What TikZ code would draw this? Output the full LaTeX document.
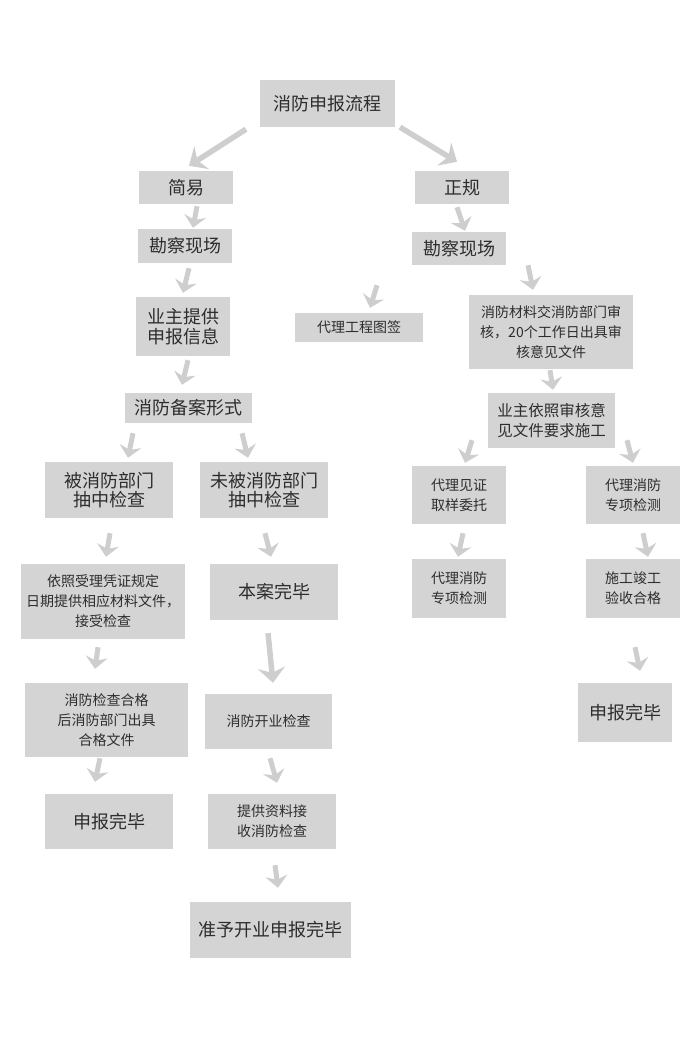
\documentclass[tikz,border=0pt]{standalone}
\usepackage{fontspec}
\usepackage{xcolor}
\usetikzlibrary{arrows.meta,calc}
\newfontfamily\cjk{Noto Sans CJK SC}
\definecolor{boxgray}{RGB}{212,212,212}
\definecolor{arrowgray}{RGB}{206,206,206}
\definecolor{textgray}{RGB}{45,45,45}

\tikzset{
  box/.style={fill=boxgray, inner sep=0pt, align=center, text=textgray, font=\cjk},
  bigtxt/.style={font=\cjk\fontsize{18}{19.5}\selectfont},
  smalltxt/.style={font=\cjk\fontsize{14}{20}\selectfont},
  arr/.style={draw=arrowgray, line width=5pt, -{Stealth[length=12pt,width=22pt,inset=4pt]}},
  arrbig/.style={draw=arrowgray, line width=5.5pt, -{Stealth[length=15pt,width=27pt,inset=5pt]}},
}

\begin{document}
\begin{tikzpicture}[x=1pt,y=1pt,yscale=-1,xscale=1]
    \useasboundingbox (0,0) rectangle (700,1038);

    % Boxes
    \node[box, bigtxt, minimum width=135pt, minimum height=47pt] (title) at (327.5,103.5) {消防申报流程};
    \node[box, bigtxt, minimum width=94pt, minimum height=33pt] (jianyi) at (186,187.5) {简易};
    \node[box, bigtxt, minimum width=94pt, minimum height=33pt] (zhenggui) at (462,187.5) {正规};
    \node[box, bigtxt, minimum width=94pt, minimum height=34pt] (kancha1) at (185,246) {勘察现场};
    \node[box, bigtxt, minimum width=94pt, minimum height=33pt] (kancha2) at (459,248.5) {勘察现场};
    \node[box, bigtxt, minimum width=94pt, minimum height=59pt] (tigong) at (183,326.5) {业主提供\\申报信息};
    \node[box, smalltxt, minimum width=128pt, minimum height=29pt] (tuqian) at (359,327.5) {代理工程图签};
    \node[box, smalltxt, minimum width=164pt, minimum height=74pt] (shenhe) at (551,332) {消防材料交消防部门审\\核，20个工作日出具审\\核意见文件};
    \node[box, bigtxt, minimum width=127pt, minimum height=30pt] (beian) at (188.5,408) {消防备案形式};
    \node[box, smalltxt, font=\cjk\fontsize{15.5}{20}\selectfont, minimum width=127pt, minimum height=55pt] (shigong) at (551.5,420.5) {业主依照审核意\\见文件要求施工};
    \node[box, bigtxt, minimum width=128pt, minimum height=56pt] (chou) at (109,490) {被消防部门\\抽中检查};
    \node[box, bigtxt, minimum width=128pt, minimum height=56pt] (weichou) at (264,490) {未被消防部门\\抽中检查};
    \node[box, smalltxt, minimum width=94pt, minimum height=58pt] (quyang) at (459,495) {代理见证\\取样委托};
    \node[box, smalltxt, minimum width=94pt, minimum height=58pt] (jiance1) at (633,495) {代理消防\\专项检测};
    \node[box, smalltxt, minimum width=164pt, minimum height=75pt] (yizhao) at (103,601.5) {依照受理凭证规定\\日期提供相应材料文件，\\接受检查};
    \node[box, bigtxt, minimum width=128pt, minimum height=56pt] (benan) at (274,592) {本案完毕};
    \node[box, smalltxt, minimum width=94pt, minimum height=59pt] (jiance2) at (459,588.5) {代理消防\\专项检测};
    \node[box, smalltxt, minimum width=94pt, minimum height=59pt] (jungong) at (633,588.5) {施工竣工\\验收合格};
    \node[box, smalltxt, minimum width=163pt, minimum height=74pt] (hege) at (106.5,720) {消防检查合格\\后消防部门出具\\合格文件};
    \node[box, smalltxt, minimum width=127pt, minimum height=55pt] (kaiye) at (268.5,721.5) {消防开业检查};
    \node[box, bigtxt, minimum width=94pt, minimum height=59pt] (wanbi1) at (625,712.5) {申报完毕};
    \node[box, bigtxt, minimum width=128pt, minimum height=55pt] (wanbi2) at (109,821.5) {申报完毕};
    \node[box, smalltxt, minimum width=128pt, minimum height=55pt] (jieshou) at (272,821.5) {提供资料接\\收消防检查};
    \node[box, bigtxt, minimum width=161pt, minimum height=56pt] (zhunyu) at (270.5,930) {准予开业申报完毕};

    % Arrows
    \draw[arrbig] ($(title.south)+(-81.5,2)$) -- ($(jianyi.north)+(3,-5)$);
    \draw[arrbig] ($(title.south)+(72.5,0)$) -- ($(zhenggui.north)+(-5,-9)$);
    \draw[arr] ($(jianyi.south)+(11,2)$) -- ($(kancha1.north)+(8,-1)$);
    \draw[arr] ($(zhenggui.south)+(-5,3)$) -- ($(kancha2.north)+(6,-1)$);
    \draw[arr] ($(kancha1.south)+(4,5)$) -- ($(tigong.north)+(0,-4)$);
    \draw[arr] ($(kancha2.south)+(-82,20)$) -- ($(tuqian.north)+(11,-5)$);
    \draw[arr] ($(kancha2.south)+(69,0)$) -- ($(shenhe.north)+(-18,-5)$);
    \draw[arr] ($(tigong.south)+(5,4)$) -- ($(beian.north)+(-6.5,-8)$);
    \draw[arr] ($(shenhe.south)+(-1,1)$) -- ($(shigong.north)+(1.5,-3)$);
    \draw[arr] ($(beian.south)+(-55.5,10)$) -- ($(chou.north)+(19,-4)$);
    \draw[arr] ($(beian.south)+(53.5,10)$) -- ($(weichou.north)+(-16,-4)$);
    \draw[arr] ($(shigong.south)+(-79.5,-8)$) -- ($(quyang.north)+(6,-3)$);
    \draw[arr] ($(shigong.south)+(75.5,-8)$) -- ($(jiance1.north)+(0,-3)$);
    \draw[arr] ($(chou.south)+(1,15)$) -- ($(yizhao.north)+(3,-7)$);
    \draw[arr] ($(weichou.south)+(1,15)$) -- ($(benan.north)+(-3,-7)$);
    \draw[arr] ($(quyang.south)+(4,9)$) -- ($(jiance2.north)+(-1,-2)$);
    \draw[arr] ($(jiance1.south)+(10,9)$) -- ($(jungong.north)+(15,-2)$);
    \draw[arr] ($(yizhao.south)+(-5,8)$) -- ($(hege.north)+(-11.5,-14)$);
    \draw[arrbig] ($(benan.south)+(-6,13)$) -- ($(kaiye.north)+(4.5,-11)$);
    \draw[arr] ($(jungong.south)+(2,29)$) -- ($(wanbi1.north)+(15,-12)$);
    \draw[arr] ($(hege.south)+(-6.5,1)$) -- ($(wanbi2.north)+(-14,-12)$);
    \draw[arr] ($(kaiye.south)+(1.5,9)$) -- ($(jieshou.north)+(5,-11)$);
    \draw[arr] ($(jieshou.south)+(3,16)$) -- ($(zhunyu.north)+(7.5,-14)$);

\end{tikzpicture}
\end{document}
